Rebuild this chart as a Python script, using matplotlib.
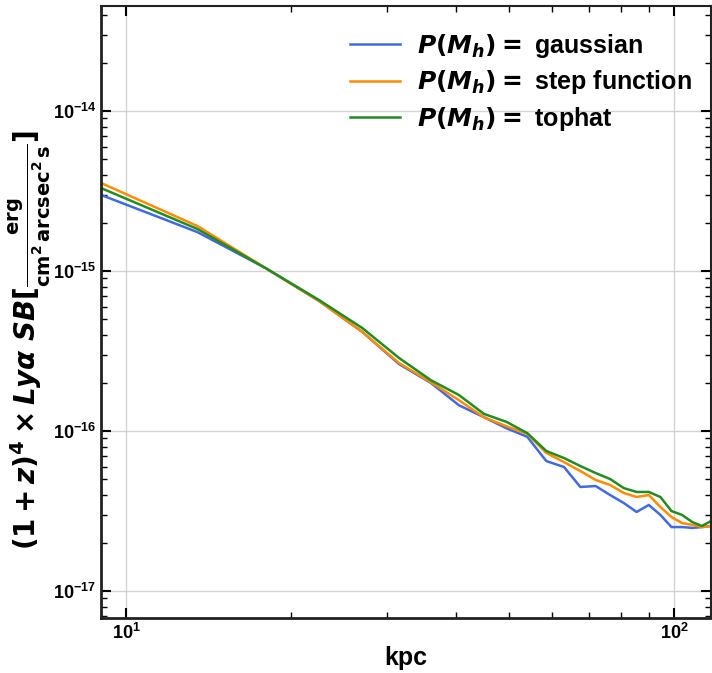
import matplotlib
matplotlib.use("Agg")
import matplotlib.pyplot as plt
from matplotlib.ticker import LogLocator, NullFormatter

plt.rcParams["font.family"] = ["Liberation Sans", "DejaVu Sans"]
plt.rcParams["font.weight"] = "bold"
plt.rcParams["mathtext.fontset"] = "dejavusans"

# radius bins (kpc)
kpc = [9.0, 13.5, 18.0, 22.5, 27.0, 31.5, 36.0, 40.5, 45.0, 49.5, 54.0, 58.5, 63.0,
       67.5, 72.0, 76.5, 81.0, 85.5, 90.0, 94.5, 99.0, 103.5, 108.0, 112.5, 117.0]

sb_gaussian = [2.99e-15, 1.75e-15, 1.04e-15, 6.50e-16, 4.16e-16, 2.62e-16, 2.00e-16,
               1.45e-16, 1.22e-16, 1.04e-16, 9.2e-17, 6.49e-17, 5.96e-17, 4.47e-17,
               4.53e-17, 3.98e-17, 3.55e-17, 3.12e-17, 3.45e-17, 2.99e-17, 2.51e-17,
               2.51e-17, 2.48e-17, 2.51e-17, 2.55e-17]
sb_step = [3.55e-15, 1.91e-15, 1.04e-15, 6.50e-16, 4.16e-16, 2.66e-16, 2.02e-16,
           1.56e-16, 1.22e-16, 1.07e-16, 9.6e-17, 7.29e-17, 6.40e-17, 5.62e-17,
           4.94e-17, 4.60e-17, 4.10e-17, 3.87e-17, 3.98e-17, 3.35e-17, 2.90e-17,
           2.66e-17, 2.59e-17, 2.51e-17, 2.55e-17]
sb_tophat = [3.30e-15, 1.83e-15, 1.04e-15, 6.59e-16, 4.40e-16, 2.86e-16, 2.08e-16,
             1.68e-16, 1.28e-16, 1.14e-16, 9.7e-17, 7.5e-17, 6.78e-17, 6.04e-17,
             5.46e-17, 5.01e-17, 4.40e-17, 4.16e-17, 4.16e-17, 3.87e-17, 3.16e-17,
             2.99e-17, 2.70e-17, 2.55e-17, 2.74e-17]

series = [
    ("gaussian", sb_gaussian, "#4169e1"),
    ("step function", sb_step, "#ff8c00"),
    ("tophat", sb_tophat, "#228b22"),
]

fig = plt.figure(figsize=(7.12, 6.73), dpi=100)
ax = fig.add_axes([0.1419, 0.0817, 0.857, 0.9093])

for name, values, color in series:
    ax.plot(kpc, values, color=color, lw=1.8,
            label=r"$\boldsymbol{P(M_h) =}$ " + name)

ax.set_xscale("log")
ax.set_yscale("log")
ax.set_xlim(kpc[0], kpc[-1])
ax.set_ylim(6.78e-18, 4.53e-14)

ax.grid(True, which="major", color="#d3d3d3", lw=1.0)
ax.yaxis.set_minor_locator(LogLocator(base=10, subs=range(2, 10), numticks=20))
ax.yaxis.set_minor_formatter(NullFormatter())
ax.xaxis.set_minor_formatter(NullFormatter())
ax.tick_params(which="both", direction="in", top=True, right=True, labelsize=13)
ax.tick_params(which="major", length=7, width=1.5)
ax.tick_params(which="minor", length=4, width=1.0)
for side in ["left", "bottom"]:
    ax.spines[side].set_linewidth(2.0)
    ax.spines[side].set_color("#222222")
for side in ["top", "right"]:
    ax.spines[side].set_linewidth(1.5)
    ax.spines[side].set_color("#222222")

ax.set_xlabel("kpc", fontsize=18, fontweight="bold", labelpad=2)
ax.set_ylabel(r"$\boldsymbol{(1+z)^4\times Ly\alpha\ SB}[\frac{\mathbf{erg}}"
              r"{\mathbf{cm}^\mathbf{2}\,\mathbf{arcsec}^\mathbf{2}\,\mathbf{s}}]$",
              fontsize=20)
ax.yaxis.set_label_coords(-0.078, 0.455)

ax.legend(loc="upper right", bbox_to_anchor=(1.006, 0.995), frameon=False,
          prop={"weight": "bold", "size": 18},
          handlelength=2.0, handletextpad=0.7, labelspacing=0.35,
          borderaxespad=0.5)

fig.savefig("out.png", dpi=100)
